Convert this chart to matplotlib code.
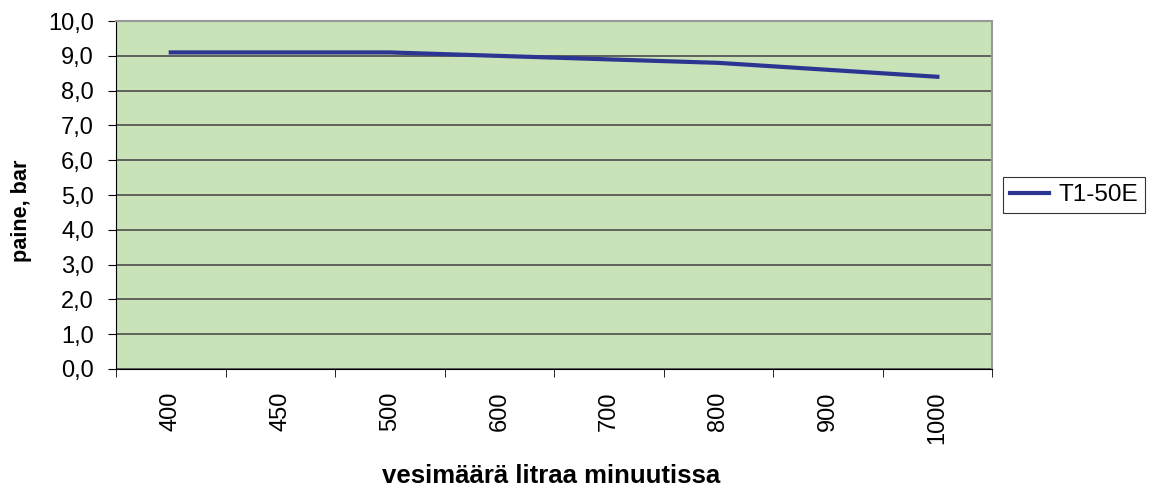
import matplotlib.pyplot as plt
import numpy as np

plt.rcParams['font.family'] = ['Liberation Sans', 'DejaVu Sans']

# vesimäärä (l/min) ja paine (bar)
categories = ['400', '450', '500', '600', '700', '800', '900', '1000']
paine = [9.1, 9.1, 9.1, 9.0, 8.9, 8.8, 8.6, 8.4]

fig = plt.figure(figsize=(11.51, 4.91), dpi=100)
ax = fig.add_axes([0.1008, 0.2485, 0.7612, 0.7085])
ax.set_facecolor('#c9e2b7')

x = np.arange(len(categories))
ax.plot(x, paine, color='#2c3591', linewidth=3, label='T1-50E', zorder=3)

ax.set_xlim(-0.5, len(categories) - 0.5)
ax.set_ylim(0, 10)
ax.set_yticks(np.arange(0, 11, 1))
ax.set_yticklabels(['{:.1f}'.format(v).replace('.', ',') for v in range(11)], fontsize=17)
ax.yaxis.grid(True, color='#4d4d4d', linewidth=1.2)
ax.set_axisbelow(True)

ax.set_xticks(x)
ax.set_xticklabels(categories, rotation=90, fontsize=17)
ax.set_xticks(np.arange(-0.5, len(categories), 1), minor=True)
ax.tick_params(axis='x', which='major', length=0, pad=16)
ax.tick_params(axis='x', which='minor', length=6, direction='out', color='black')
ax.tick_params(axis='y', length=6, direction='out', pad=10)

for s in ['top', 'right']:
    ax.spines[s].set_color('#999999')
    ax.spines[s].set_linewidth(1.5)
for s in ['left', 'bottom']:
    ax.spines[s].set_color('black')

fig.text(551.5 / 1151, 8 / 491, 'vesimäärä litraa minuutissa', fontsize=18.5,
         fontweight='bold', ha='center', va='baseline')
fig.text(22 / 1151, 1 - 211 / 491, 'paine, bar', fontsize=15.6, fontweight='bold',
         rotation=90, ha='center', va='center')

leg = ax.legend(loc='center left', bbox_to_anchor=(1.012, 0.5), fontsize=17.5,
                frameon=True, fancybox=False, edgecolor='black', handlelength=1.6,
                borderpad=0.3, handletextpad=0.4, borderaxespad=0)
leg.get_frame().set_linewidth(0.8)

fig.savefig('out.png', dpi=100)
